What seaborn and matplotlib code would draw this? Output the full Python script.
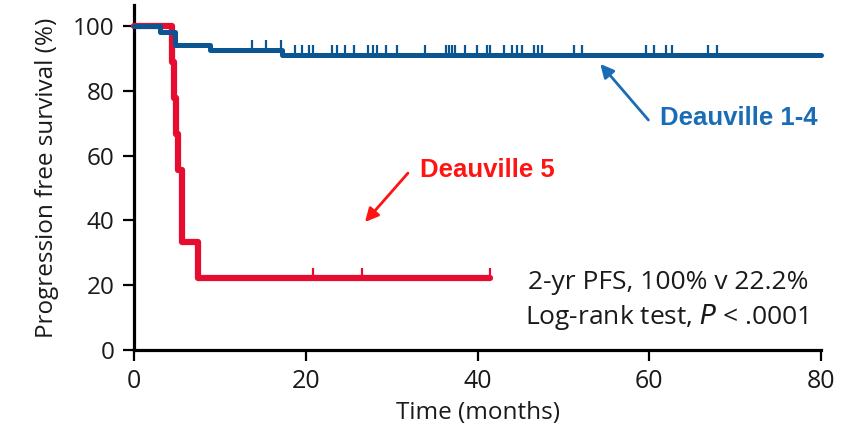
import numpy as np
import matplotlib
matplotlib.use("Agg")
import matplotlib.pyplot as plt
import seaborn as sns
from matplotlib.path import Path
from matplotlib import font_manager

# ---- data ----
blue_times = [0, 3.0, 4.8, 8.9, 17.2, 80]
blue_surv = [100, 98.1, 94.2, 92.6, 91.0, 91.0]
blue_censor = [13.7, 15.4, 17.1, 18.8, 19.6, 20.4, 20.9, 23.0, 23.6, 24.6, 25.6,
               27.3, 27.8, 28.3, 29.3, 30.6, 33.9, 36.3, 36.7, 37.0, 37.4, 38.6,
               39.9, 41.1, 41.5, 43.1, 44.0, 44.6, 45.2, 46.6, 47.0, 47.5, 51.2,
               52.2, 59.6, 60.6, 61.9, 62.7, 66.8, 67.9]
red_times = [0, 4.46, 4.66, 4.87, 5.07, 5.6, 7.5, 41.5]
red_surv = [100, 88.9, 77.8, 66.7, 55.6, 33.3, 22.2, 22.2]
red_censor = [20.9, 26.5, 41.5]
x_ticks = [0, 20, 40, 60, 80]
y_ticks = [0, 20, 40, 60, 80, 100]

BLUE = "#0a5592"
RED = "#e60d31"
BLUE_TXT = "#1a6cb5"
RED_TXT = "#ff1414"

sns.set_theme(style="ticks")
avail = {f.name for f in font_manager.fontManager.ttflist}
NARROW = "Liberation Sans Narrow" if "Liberation Sans Narrow" in avail else "Open Sans"
plt.rcParams["font.family"] = ["Open Sans", "DejaVu Sans"]

fig = plt.figure(figsize=(8.43, 4.43), dpi=100)
ax = fig.add_axes([134 / 843, 1 - 350 / 443, (821 - 134) / 843, 345 / 443])


def step_at(times, surv, t):
    idx = np.searchsorted(np.asarray(times), np.asarray(t), side="right") - 1
    return np.asarray(surv)[idx]


tick_marker = Path([(0, 0), (0, 1)])

sns.lineplot(x=red_times, y=red_surv, drawstyle="steps-post", color=RED,
             linewidth=4.5, estimator=None, sort=False, ax=ax, clip_on=False, zorder=3)
sns.scatterplot(x=red_censor, y=step_at(red_times, red_surv, red_censor),
                marker=tick_marker, s=190, linewidth=1.6, edgecolor=RED,
                color=RED, ax=ax, clip_on=False, zorder=3)

sns.lineplot(x=blue_times, y=blue_surv, drawstyle="steps-post", color=BLUE,
             linewidth=3.6, estimator=None, sort=False, ax=ax, clip_on=False, zorder=4)
sns.scatterplot(x=blue_censor, y=step_at(blue_times, blue_surv, blue_censor),
                marker=tick_marker, s=210, linewidth=1.6, edgecolor=BLUE,
                color=BLUE, ax=ax, clip_on=False, zorder=4)

ax.set_xlim(0, 80)
ax.set_ylim(0, 106.5)
ax.set_xticks(x_ticks)
ax.set_yticks(y_ticks)
ax.set_xticklabels([str(v) for v in x_ticks], family=[NARROW, "DejaVu Sans"], fontsize=18)
ax.set_yticklabels([str(v) for v in y_ticks], fontsize=17.5)
ax.tick_params(axis="both", direction="out", length=8, width=1.6, color="black",
               labelcolor="#1a1a1a", pad=6)
for s in ["top", "right"]:
    ax.spines[s].set_visible(False)
for s in ["left", "bottom"]:
    ax.spines[s].set_linewidth(2.3)
    ax.spines[s].set_color("black")

ax.set_xlabel("Time (months)", family=[NARROW, "DejaVu Sans"], fontsize=17.5,
              color="#1a1a1a", labelpad=5)
ax.set_ylabel("Progression free survival (%)", family=[NARROW, "DejaVu Sans"],
              fontsize=17.5, color="#1a1a1a", labelpad=10)

# labels and arrows
ax.annotate("", xy=(54.3, 88.3), xytext=(59.9, 71.0),
            arrowprops=dict(arrowstyle="-|>", color=BLUE_TXT, lw=2, mutation_scale=20,
                            shrinkA=0, shrinkB=0))
ax.text(61.3, 71.6, "Deauville 1-4", color=BLUE_TXT, fontsize=18.5, fontweight="bold",
        family=["Liberation Sans", "DejaVu Sans"], ha="left", va="center")
ax.annotate("", xy=(26.9, 39.5), xytext=(31.9, 54.6),
            arrowprops=dict(arrowstyle="-|>", color=RED_TXT, lw=2, mutation_scale=20,
                            shrinkA=0, shrinkB=0))
ax.text(33.3, 55.6, "Deauville 5", color=RED_TXT, fontsize=18.5, fontweight="bold",
        family=["Liberation Sans", "DejaVu Sans"], ha="left", va="center")

ax.text(78.5, 20.7, "2-yr PFS, 100% v 22.2%", fontsize=19, color="#1a1a1a",
        ha="right", va="center")
ax.text(78.5, 10.2, "Log-rank test, $\\it{P}$ < .0001", fontsize=19, color="#1a1a1a",
        ha="right", va="center")

fig.savefig("out.png", dpi=100)
